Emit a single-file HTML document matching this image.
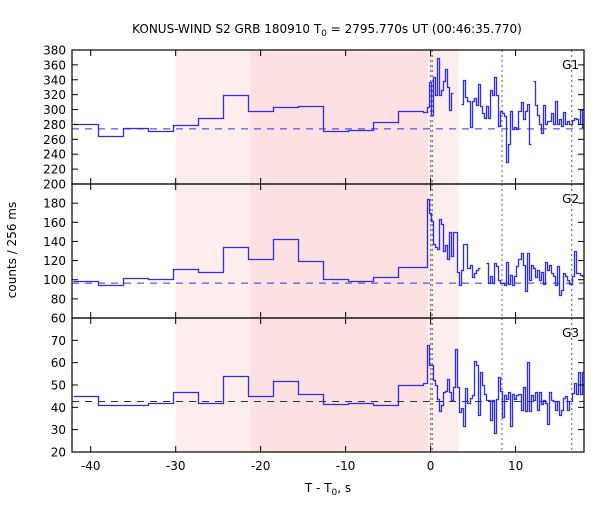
<!DOCTYPE html>
<html><head><meta charset="utf-8"><style>
body{margin:0;background:#fff}
svg text{font-family:"DejaVu Sans","Liberation Sans",sans-serif;font-size:12px;fill:#000}
</style></head><body>
<svg id="chart" width="600" height="500" viewBox="0 0 600 500" xmlns="http://www.w3.org/2000/svg">
<text x="327" y="33" text-anchor="middle">KONUS-WIND S2 GRB 180910 T<tspan font-size="9" dy="3">0</tspan><tspan dy="-3"> = 2795.770s UT (00:46:35.770)</tspan></text>
<text transform="translate(16,250) rotate(-90)" text-anchor="middle">counts / 256 ms</text>
<text x="328" y="492" text-anchor="middle">T - T<tspan font-size="9" dy="3">0</tspan><tspan dy="-3">, s</tspan></text>
<g id="plots"></g>
</svg>
<script>
const coarseStart = -42.1;
const coarseWidth = 2.94;
const fineStart = -0.94;
const fineWidth = 0.24;
const g1Coarse = [281,264,275,271,279,289,319,298,303,305,271,273,283,298];
const g1Fine = [297,297,303,337,293,344,319,369,320,326,339,355,330,300,322,null,null,null,null,308,340,317,312,276,312,316,306,335,305,296,288,305,288,326,319,344,319,278,298,296,291,229,254,298,274,276,274,298,310,287,298,308,254,null,338,306,293,280,269,306,280,284,284,296,280,312,280,287,278,297,280,285,280,286,288,287,281,300,276];
const g2Coarse = [99,95,102,101,111,108,134,122,143,120,101,99,103,113];
const g2Fine = [113,113,184,170,161,137,134,132,163,158,130,136,122,150,125,150,150,108,95,110,137,137,112,115,103,107,110,112,null,null,null,117,97,104,97,117,114,100,97,97,95,118,96,105,95,104,114,122,128,115,88,128,100,115,112,103,110,100,108,96,118,110,115,107,104,95,114,84,89,107,104,100,96,104,130,107,107,105,104];
const g3Coarse = [45,41,41,42,47,42,54,45,52,46,41.5,42,41,50];
const g3Fine = [50.8,50.8,67.8,58.8,58.8,52.3,50,43.9,38.5,41,46.8,47.5,52.6,46.8,43.4,49,65.9,49,37.7,39.5,31.7,48.6,42,44.3,45.4,60.7,59,36.6,56,50,45.8,43.4,43.4,34.4,43.4,28.3,43.9,53.8,47.5,35.5,45.4,43.9,46.7,31.7,46,43.9,45.4,46,39,49,38.3,60.4,38.3,45.4,43.4,46.8,39,46.8,41.6,43.4,42,32.5,46.8,43.4,43,39,43,36.6,38.6,44,45,39,43,46.3,50.8,45.8,56,45.8,56,31,41];
const baselines = [274, 96.5, 42.6];
const xTicks = [-40,-30,-20,-10,0,10];
const yRanges = [[200,380],[60,200],[20,80]];
const yTickSteps = [20,20,10];
const panelLabels = ["G1","G2","G3"];
const lightBands = [[-30,-21.25],[-0.35,3.3]];
const darkBands = [[-21.25,-0.35]];
const dottedTimes = [0,0.2,8.4,16.6];

const NS="http://www.w3.org/2000/svg";
const X0=72, X1=584, tMin=-42.2, tMax=18.05;
const panelTop=[50,184,318], panelH=134;
const baseColors=['#3333ee','#3333ee','#333333'];
const xs=t=>X0+(t-tMin)/(tMax-tMin)*(X1-X0);
function mk(tag,attrs,parent){const e=document.createElementNS(NS,tag);for(const k in attrs)e.setAttribute(k,attrs[k]);parent.appendChild(e);return e;}
const root=document.getElementById('plots');
const clipDefs=mk('defs',{},root);
const cp=mk('clipPath',{id:'clipall'},clipDefs);
mk('rect',{x:X0,y:50,width:X1-X0,height:402},cp);

const bandG=mk('g',{'clip-path':'url(#clipall)'},root);


lightBands.forEach(b=>{const r=mk('rect',{x:xs(b[0]),y:50,width:xs(b[1])-xs(b[0]),height:402,fill:'#fdeded'},bandG);

});
darkBands.forEach(b=>{const r=mk('rect',{x:xs(b[0]),y:50,width:xs(b[1])-xs(b[0]),height:402,fill:'#fde0e1'},bandG);

});

const series=[[g1Coarse,g1Fine],[g2Coarse,g2Fine],[g3Coarse,g3Fine]];
series.forEach((s,p)=>{
  const [lo,hi]=yRanges[p];
  const top=panelTop[p], bot=top+panelH;
  const ys=v=>bot-(v-lo)/(hi-lo)*panelH;
  const g=mk('g',{},root);
  
  
  dottedTimes.forEach(t=>{const l=mk('line',{x1:xs(t),x2:xs(t),y1:top,y2:bot,stroke:'#777','stroke-width':1.2,'stroke-dasharray':'2,3'},g);
  
  });
  const bl=mk('line',{x1:X0,x2:X1,y1:ys(baselines[p]),y2:ys(baselines[p]),stroke:baseColors[p],'stroke-width':1,'stroke-dasharray':'7,6'},g);
  
  
  const bins=[];
  s[0].forEach((v,i)=>bins.push([coarseStart+i*coarseWidth,coarseStart+(i+1)*coarseWidth,v]));
  s[1].forEach((v,i)=>bins.push([fineStart+i*fineWidth,fineStart+(i+1)*fineWidth,v]));
  let d='', prev=null;
  bins.forEach(b=>{
    if(b[2]===null){prev=null;return;}
    const x0=Math.round(xs(b[0]))+0.5,x1=Math.round(Math.min(xs(b[1]),X1))+0.5,y=Math.round(ys(b[2]))+0.5;
    if(x0>=X1)return;
    if(prev===null)d+='M'+x0+','+y;
    else d+='L'+x0+','+y;
    d+='L'+x1+','+y;
    prev=y;
  });
  const path=mk('path',{d:d,fill:'none',stroke:'#2b2bff','stroke-width':1.3},g);
  
  
  mk('rect',{x:X0,y:top,width:X1-X0,height:panelH,fill:'none',stroke:'#000','stroke-width':1.2},g);
  for(let v=lo;v<=hi;v+=yTickSteps[p]){
    const y=ys(v);
    mk('line',{x1:X0,x2:X0+6,y1:y,y2:y,stroke:'#000'},g);
    mk('line',{x1:X1,x2:X1-6,y1:y,y2:y,stroke:'#000'},g);
    if(p>0&&v===hi)continue;
    const t=mk('text',{x:X0-6,y:y+4.5,'text-anchor':'end'},g);t.textContent=v;
    
    
  }
  xTicks.forEach(v=>{const x=xs(v);
    mk('line',{x1:x,x2:x,y1:top,y2:top+6,stroke:'#000'},g);
    mk('line',{x1:x,x2:x,y1:bot,y2:bot-6,stroke:'#000'},g);});
  const lab=mk('text',{x:X1-5,y:top+19,'text-anchor':'end'},g);lab.textContent=panelLabels[p];
  
  
});
xTicks.forEach(v=>{const t=mk('text',{x:xs(v),y:470,'text-anchor':'middle'},root);t.textContent=v;

});
</script>
</body></html>
